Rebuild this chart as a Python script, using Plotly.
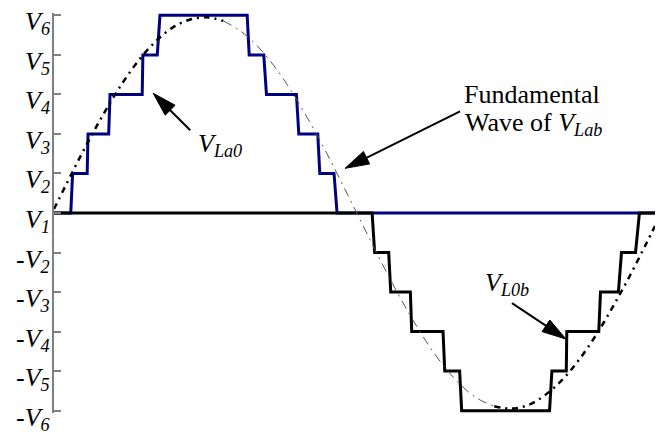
import plotly.graph_objects as go

# step levels: V1 = 0, V2 = 1 ... V6 = 5 (one unit per step)
level_vals = [-5, -4, -3, -2, -1, 0, 1, 2, 3, 4, 5]
level_text = ["-<i>V<sub>6</sub></i>", "-<i>V<sub>5</sub></i>", "-<i>V<sub>4</sub></i>",
              "-<i>V<sub>3</sub></i>", "-<i>V<sub>2</sub></i>", "<i>V<sub>1</sub></i>",
              "<i>V<sub>2</sub></i>", "<i>V<sub>3</sub></i>", "<i>V<sub>4</sub></i>",
              "<i>V<sub>5</sub></i>", "<i>V<sub>6</sub></i>"]

# V_La0 (blue staircase), x in degrees
la0_x = [0, 9.9, 11.0, 19.6, 20.1, 32.3, 33.1, 52.1, 52.5, 61.0, 62.6,
         114.1, 115.3, 123.9, 125.5, 143.2, 144.6, 155.8, 157.0, 165.4, 167.2, 355]
la0_y = [0, 0, 1, 1, 2, 2, 3, 3, 4, 4, 5,
         5, 4, 4, 3, 3, 2, 2, 1, 1, 0, 0]

# V_L0b (black staircase)
l0b_x = [0, 187.9, 189.4, 197.7, 198.9, 210.5, 211.3, 229.8, 230.8, 239.6, 240.8,
         292.7, 294.1, 302.6, 302.9, 321.8, 322.8, 333.4, 335.2, 343.5, 345.8, 355]
l0b_y = [0, 0, -1, -1, -2, -2, -3, -3, -4, -4, -5,
         -5, -4, -4, -3, -3, -2, -2, -1, -1, 0, 0]

# fundamental wave of V_Lab
fund_x = [0, 10, 20, 30, 40, 50, 60, 70, 80, 90, 100, 110, 120, 130, 140, 150, 160, 170,
          180, 190, 200, 210, 220, 230, 240, 250, 260, 270, 280, 290, 300, 310, 320, 330,
          340, 350, 355]
fund_y = [0.10, 0.96, 1.79, 2.56, 3.26, 3.86, 4.34, 4.69, 4.89, 4.95, 4.86, 4.61, 4.23,
          3.72, 3.10, 2.38, 1.60, 0.76, -0.10, -0.96, -1.79, -2.56, -3.26, -3.86, -4.34,
          -4.69, -4.89, -4.95, -4.86, -4.61, -4.23, -3.72, -3.10, -2.38, -1.60, -0.76, -0.33]

FONT = "Liberation Serif"

fig = go.Figure()
fig.add_trace(go.Scatter(x=la0_x, y=la0_y, mode="lines",
                         line=dict(color="#000080", width=3)))
fig.add_trace(go.Scatter(x=l0b_x, y=l0b_y, mode="lines",
                         line=dict(color="black", width=3)))

# thin part of the fundamental (falling side), thicker dotted elsewhere
thin = [(x, y) for x, y in zip(fund_x, fund_y) if 100 <= x <= 260]
rise1 = [(x, y) for x, y in zip(fund_x, fund_y) if x <= 100]
rise2 = [(x, y) for x, y in zip(fund_x, fund_y) if x >= 260]
fig.add_trace(go.Scatter(x=[p[0] for p in thin], y=[p[1] for p in thin], mode="lines",
                         line=dict(color="#555555", width=1, dash="9px,5px,2px,5px",
                                   shape="spline")))
for seg in (rise1, rise2):
    fig.add_trace(go.Scatter(x=[p[0] for p in seg], y=[p[1] for p in seg], mode="lines",
                             line=dict(color="black", width=2.5, dash="6px,5px,2px,5px",
                                       shape="spline")))


def arrow(tx, ty, ax, ay, length=24, half=7):
    # shaft + filled head (pixel sized) pointing at (tx, ty); ax, ay = tail offset, y down
    n = (ax ** 2 + ay ** 2) ** 0.5
    ux, uy = ax / n, -ay / n
    bx, by = ux * length, uy * length
    px, py = -uy * half, ux * half
    common = dict(type="path", xref="x", yref="y", xsizemode="pixel", ysizemode="pixel",
                  xanchor=tx, yanchor=ty)
    shaft = dict(common, path=f"M{bx * 0.5:.1f},{by * 0.5:.1f} L{ax:.1f},{-ay:.1f}",
                 line=dict(color="black", width=2))
    tip = dict(common,
               path=f"M0,0 L{bx + px:.1f},{by + py:.1f} L{bx - px:.1f},{by - py:.1f} Z",
               fillcolor="black", line=dict(color="black", width=1))
    return [shaft, tip]


arrows = [(58.6, 3.03, 37, 37), (171.9, 1.13, 115, -57), (302.4, -3.19, -54, -36)]
shapes = []
for a in arrows:
    shapes += arrow(*a)

annotations = []
labels = [
    (83.9, 1.72, "<i>V<sub>La0</sub></i>"),
    (241.0, 3.01, "Fundamental"),
    (241.5, 2.25, "Wave of <i>V<sub>Lab</sub></i>"),
    (253.6, -1.80, "<i>V<sub>L0b</sub></i>"),
]
for x, y, t in labels:
    annotations.append(dict(x=x, y=y, text=t, showarrow=False, xanchor="left",
                            yanchor="middle", font=dict(family=FONT, size=26, color="black")))

# level labels sit a little below their ticks
for v, t in zip(level_vals, level_text):
    annotations.append(dict(xref="paper", x=0, y=v, text=t, showarrow=False,
                            xanchor="right", yanchor="middle", xshift=-2, yshift=-8,
                            font=dict(family=FONT, size=26, color="black")))

fig.update_layout(
    width=658, height=436,
    margin=dict(l=54, r=3, t=13, b=23),
    paper_bgcolor="white", plot_bgcolor="white",
    showlegend=False,
    xaxis=dict(range=[0, 355], visible=False),
    yaxis=dict(range=[-5.06, 5.06], tickvals=level_vals, showticklabels=False,
               ticks="inside", ticklen=7, tickwidth=1.5, tickcolor="#808080",
               showline=True, linecolor="#808080", linewidth=1.5,
               showgrid=False, zeroline=False, automargin=False),
    shapes=shapes,
    annotations=annotations,
)

fig.write_html("out.html", config={"displayModeBar": False},
               post_script="document.body.style.margin='0';")
